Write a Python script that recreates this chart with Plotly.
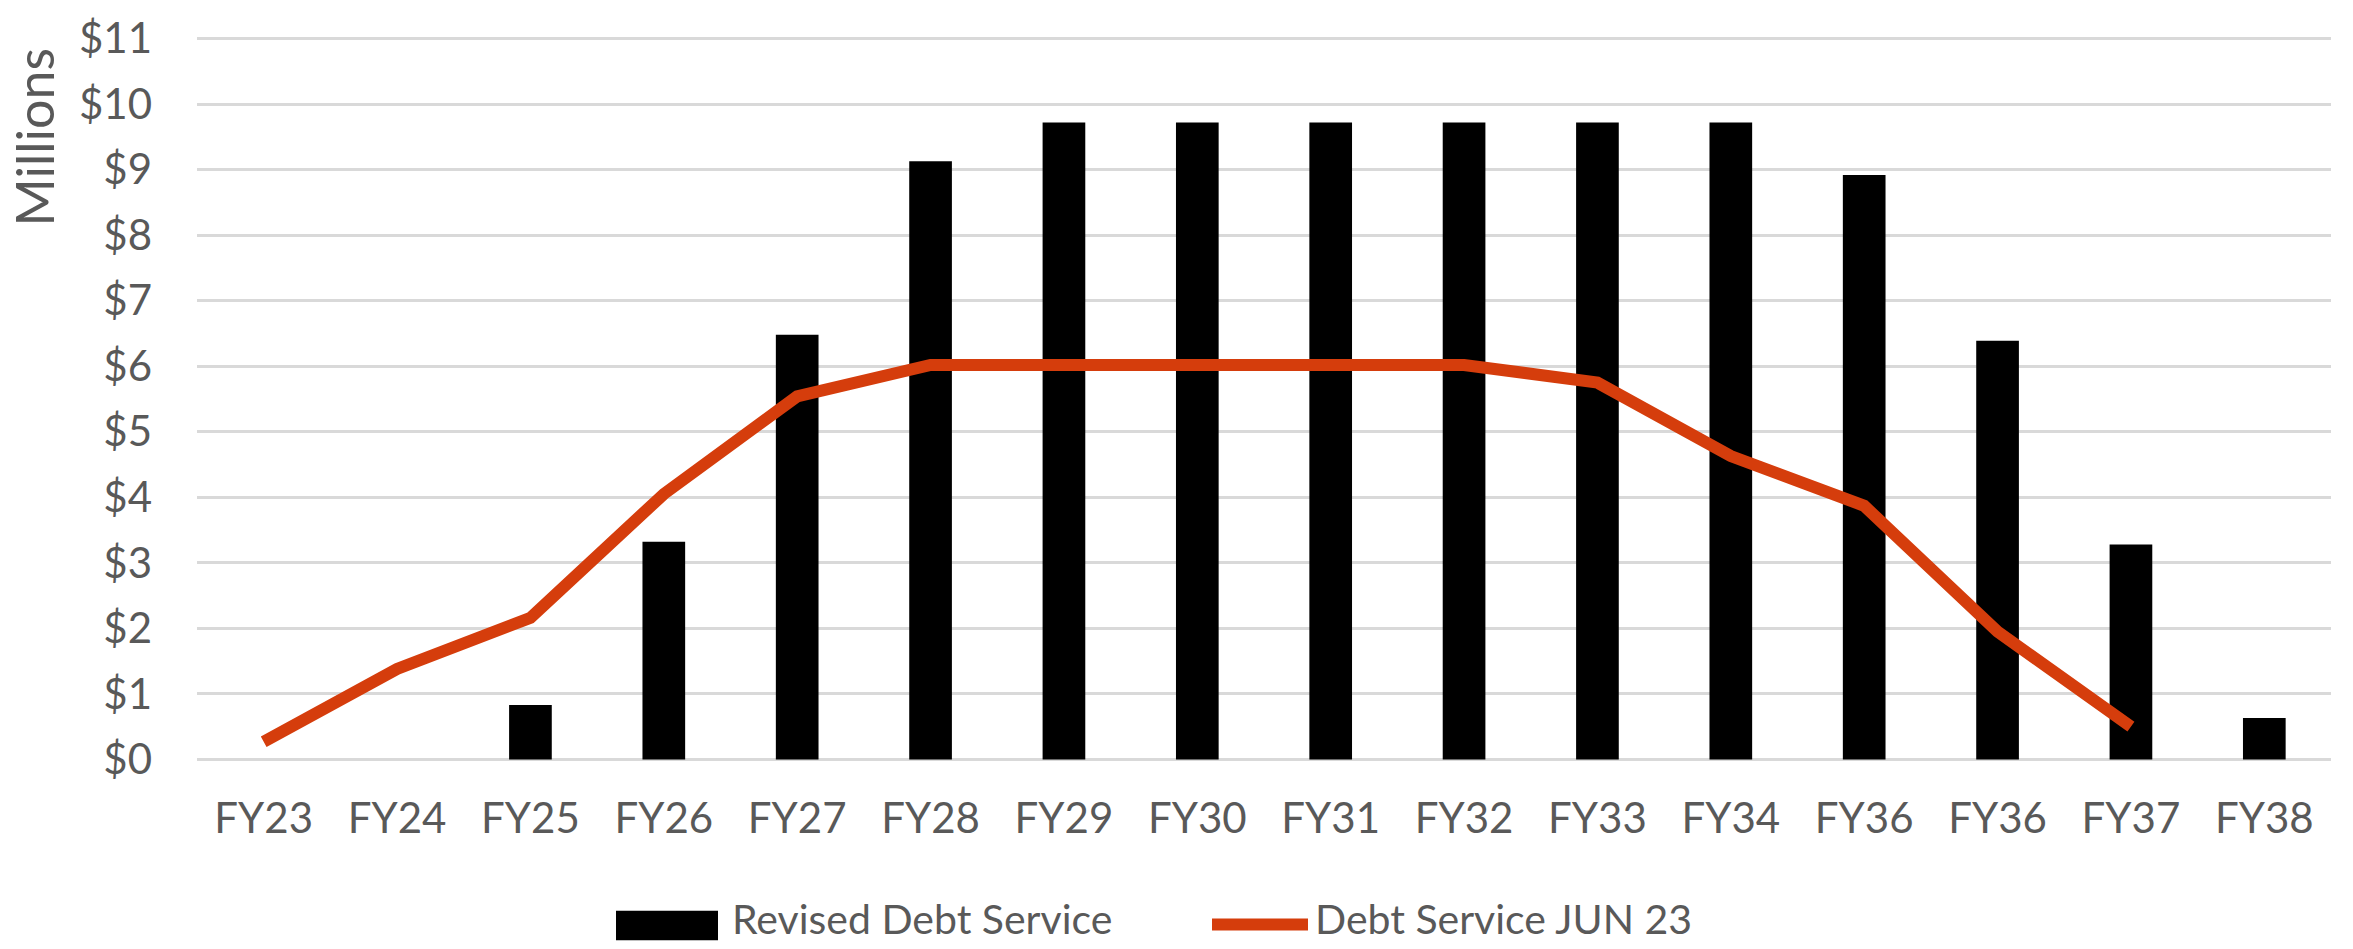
import plotly.graph_objects as go

categories = ["FY23", "FY24", "FY25", "FY26", "FY27", "FY28", "FY29", "FY30",
              "FY31", "FY32", "FY33", "FY34", "FY36", "FY36", "FY37", "FY38"]
revised_debt_service = [None, None, 0.83, 3.32, 6.48, 9.13, 9.72, 9.72,
                        9.72, 9.72, 9.72, 9.72, 8.92, 6.39, 3.28, 0.63]
debt_service_jun23 = [0.27, 1.38, 2.16, 4.05, 5.54, 6.02, 6.02, 6.02,
                      6.02, 6.02, 5.75, 4.63, 3.87, 1.95, 0.50, None]
y_ticks = list(range(0, 12))
y_tick_labels = [f"${v}" for v in y_ticks]

W, H = 2353, 949
PAD = 0.04  # small range padding so edge gridlines are drawn
L, R, T, B = 197, 22, 25, 187
PW, PH = W - L - R, H - T - B
FONT = "Lato"
TXT = "#595959"
ORANGE = "#D53D0C"

def px(x, y):
    return (x - L) / PW, (H - B - y) / PH

xs = list(range(len(categories)))
fig = go.Figure()
fig.add_trace(go.Bar(x=xs, y=revised_debt_service, name="Revised Debt Service",
                     marker=dict(color="black", line=dict(width=0)), showlegend=False))
fig.add_trace(go.Scatter(x=xs, y=debt_service_jun23, name="Debt Service JUN 23", mode="lines",
                         line=dict(color=ORANGE, width=12), showlegend=False))

fig.update_layout(
    width=W, height=H,
    margin=dict(l=L, r=R, t=T, b=B),
    paper_bgcolor="white", plot_bgcolor="white",
    bargap=0.68,
    font=dict(family=FONT, size=42, color=TXT),
    xaxis=dict(range=[-0.5, len(categories) - 0.5], tickvals=xs, ticktext=categories,
               showgrid=False, zeroline=False, showline=False, ticks="",
               ticklabelstandoff=28, tickfont=dict(family=FONT, size=42, color=TXT)),
    yaxis=dict(range=[-PAD, 11 + PAD], tickvals=y_ticks, ticktext=y_tick_labels,
               showgrid=True, gridcolor="#D9D9D9", gridwidth=3, zeroline=False,
               showline=False, ticks="", ticklabelstandoff=44,
               tickfont=dict(family=FONT, size=42, color=TXT)),
)

# Millions display-unit label
mx, my = px(34, 128)
fig.add_annotation(text="Millions", xref="paper", yref="paper", x=mx, y=my,
                   textangle=-90, showarrow=False, xanchor="center", yanchor="middle",
                   font=dict(family=FONT, size=52, color=TXT))

# Legend (drawn to match the wide swatches of the original)
x0, y1 = px(616, 913)
x1, y0 = px(718, 943)
fig.add_shape(type="rect", xref="paper", yref="paper", x0=x0, x1=x1, y0=y0, y1=y1,
              fillcolor="black", line=dict(width=0))
tx, ty = px(730, 921)
fig.add_annotation(text="Revised Debt Service", xref="paper", yref="paper", x=tx, y=ty,
                   showarrow=False, xanchor="left", yanchor="middle",
                   font=dict(family=FONT, size=41, color=TXT))
lx0, ly = px(1212, 927)
lx1, _ = px(1308, 927)
fig.add_shape(type="line", xref="paper", yref="paper", x0=lx0, x1=lx1, y0=ly, y1=ly,
              line=dict(color=ORANGE, width=12))
tx2, ty2 = px(1313, 921)
fig.add_annotation(text="Debt Service JUN 23", xref="paper", yref="paper", x=tx2, y=ty2,
                   showarrow=False, xanchor="left", yanchor="middle",
                   font=dict(family=FONT, size=41, color=TXT))

fig.write_html("out.html", config={"displayModeBar": False},
               post_script="document.body.style.margin='0';document.body.style.overflow='hidden';")
